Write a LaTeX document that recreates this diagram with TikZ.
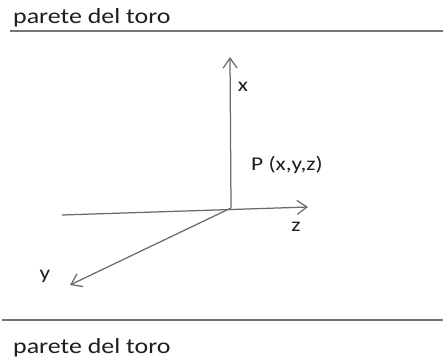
\documentclass[tikz,border=0pt]{standalone}
\usepackage{fontspec}
\setmainfont{Carlito}[FakeStretch=1.2]
\usepackage{xcolor}
\usepackage{tikz}
\usetikzlibrary{arrows.meta}
\definecolor{WallGray}{HTML}{757575}
\definecolor{AxisGray}{HTML}{6A6A6A}
\definecolor{LabelInk}{HTML}{1E1E1E}

\begin{document}
\begin{tikzpicture}[
  x=1pt, y=-1pt,
  wall/.style={draw=WallGray, line width=1.4pt},
  axis/.style={draw=AxisGray, line width=1.25pt, -{Straight Barb[length=10pt, width=14pt]}},
  lbl/.style={font=\fontsize{19.5}{24}\selectfont, text=LabelInk, inner sep=0pt},
  walllbl/.style={lbl, font=\fontsize{21.6}{26}\selectfont, anchor=base west}
]
\useasboundingbox (0,0) rectangle (443,360);

% the two walls
\node[walllbl] (wallTop) at (13,23) {parete del toro};
\node[walllbl] (wallBot) at (13,353) {parete del toro};
\coordinate (topL) at (10,31);
\coordinate (topR) at (443,31);
\coordinate (botL) at (2,320);
\coordinate (botR) at (443,320);
\draw[wall] (topL) -- (topR);
\draw[wall] (botL) -- (botR);

% axes from the point P
\coordinate (origin) at (231,208);
\coordinate (xTip) at (230,57);
\coordinate (zStart) at (62,215);
\coordinate (zTip) at (308,207);
\coordinate (yTip) at (70,285);
\draw[axis] (origin) -- (xTip);
\draw[axis] (zStart) -- (zTip);
\draw[axis] (origin) -- (yTip);

\node[lbl] (xLab) at (243,87) {x};
\node[lbl] (zLab) at (296,227) {z};
\node[lbl] (yLab) at (45,276) {y};
\node[lbl, anchor=base west] (pLab) at (251,170) {P (x,y,z)};
\end{tikzpicture}
\end{document}
